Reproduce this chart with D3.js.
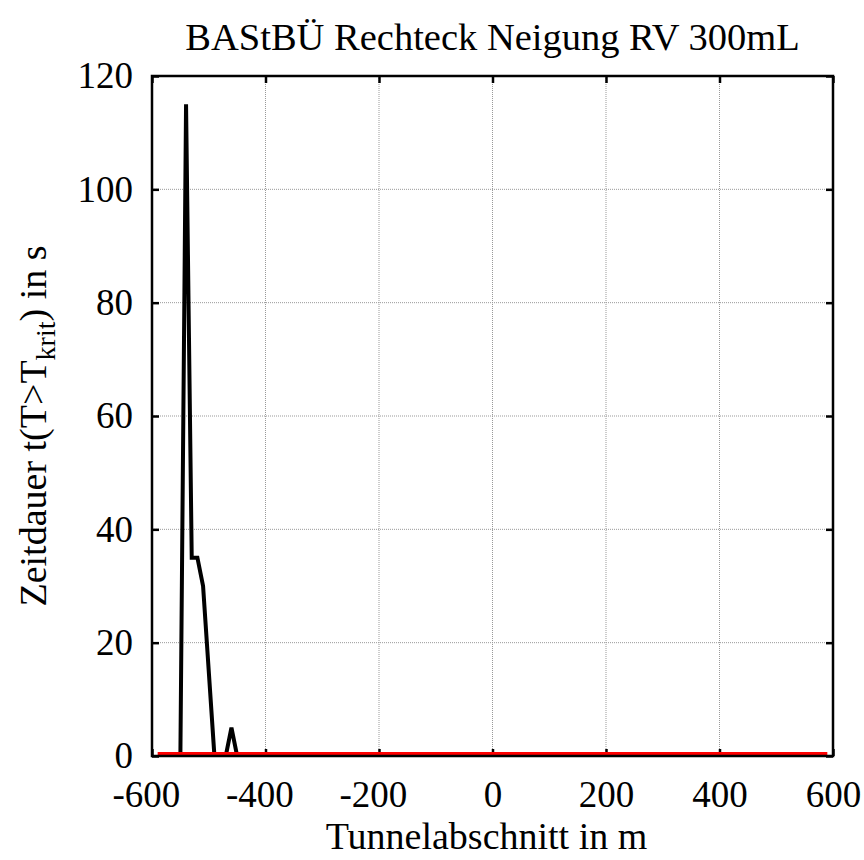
<!DOCTYPE html>
<html>
<head>
<meta charset="utf-8">
<script src="https://cdn.jsdelivr.net/npm/d3@7"></script>
<style>
  body { margin: 0; background: #fff; }
  svg text { font-family: "Liberation Serif", "Times New Roman", serif; fill: #000; }
</style>
</head>
<body>
<div id="chart"></div>
<script>
// data
var posX   = [-550, -540, -530, -520, -510, -490, -480, -470, -460, -450];
var dauer  = [0, 115, 35, 35, 30, 0, 0, 0, 5, 0];
var limitX = [-590, 590];
var limitY = [0, 0];
var xTicks = [-600, -400, -200, 0, 200, 400, 600];
var yTicks = [0, 20, 40, 60, 80, 100, 120];

var W = 864, H = 860;
var margin = {top: 76, right: 31, bottom: 104, left: 152};
var innerW = W - margin.left - margin.right,
    innerH = H - margin.top - margin.bottom;

var svg = d3.select("#chart").append("svg")
  .attr("width", W)
  .attr("height", H);

svg.append("defs").append("clipPath").attr("id", "plotclip")
  .append("rect").attr("width", innerW).attr("height", innerH);

var g = svg.append("g")
  .attr("transform", "translate(" + margin.left + "," + margin.top + ")");

var x = d3.scaleLinear().domain([-600, 600]).range([0, innerW]);
var y = d3.scaleLinear().domain([0, 120]).range([innerH, 0]);

// grid (dotted gray)
g.selectAll(".gx").data(xTicks.slice(1, -1)).enter().append("line")
  .attr("x1", function(d){ return x(d); }).attr("x2", function(d){ return x(d); })
  .attr("y1", 0).attr("y2", innerH)
  .style("stroke", "#999").style("stroke-width", 1).style("stroke-dasharray", "1,1");
g.selectAll(".gy").data(yTicks.slice(1, -1)).enter().append("line")
  .attr("y1", function(d){ return y(d); }).attr("y2", function(d){ return y(d); })
  .attr("x1", 0).attr("x2", innerW)
  .style("stroke", "#999").style("stroke-width", 1).style("stroke-dasharray", "1,1");

// axes, ticks pointing inward
var fs = 37;
var xAxis = g.append("g").attr("transform", "translate(0," + innerH + ")")
  .call(d3.axisBottom(x).tickValues(xTicks).tickSize(-7).tickPadding(25).tickFormat(d3.format("d")));
var yAxis = g.append("g")
  .call(d3.axisLeft(y).tickValues(yTicks).tickSize(-7).tickPadding(19).tickFormat(d3.format("d")));
var xTop = g.append("g")
  .call(d3.axisTop(x).tickValues(xTicks).tickSize(-7).tickFormat(""));
var yRight = g.append("g").attr("transform", "translate(" + innerW + ",0)")
  .call(d3.axisRight(y).tickValues(yTicks).tickSize(-7).tickFormat(""));

[xAxis, yAxis, xTop, yRight].forEach(function(a){
  a.select(".domain").remove();
  a.selectAll(".tick line").style("stroke", "#000").style("stroke-width", 2.5);
  a.selectAll("text").style("font-size", fs + "px").style("font-family", "Liberation Serif, serif");
});
// digits centred on the tick, the minus sign hangs to the left
xAxis.selectAll("text")
  .text(function(d){ return d < 0 ? "-" + Math.abs(d) : d; })
  .attr("dx", function(d){ return d < 0 ? "-0.167em" : 0; });

// series
var line = d3.line()
  .x(function(d){ return x(d[0]); })
  .y(function(d){ return y(d[1]); });

g.append("path")
  .datum(d3.zip(posX, dauer))
  .attr("d", line)
  .attr("clip-path", "url(#plotclip)")
  .style("fill", "none")
  .style("stroke", "#000")
  .style("stroke-width", 4)
  .style("stroke-linejoin", "miter");

g.append("path")
  .datum(d3.zip(limitX, limitY))
  .attr("d", line)
  .attr("transform", "translate(0,-2.5)")
  .style("fill", "none")
  .style("stroke", "#ff0000")
  .style("stroke-width", 3);

// frame
g.append("rect")
  .attr("width", innerW).attr("height", innerH)
  .style("fill", "none").style("stroke", "#000").style("stroke-width", 2.5);

// title and labels
svg.append("text")
  .attr("x", margin.left + innerW / 2).attr("y", 50)
  .attr("text-anchor", "middle")
  .style("font-size", "38.5px")
  .text("BAStBÜ Rechteck Neigung RV 300mL");

svg.append("text")
  .attr("x", margin.left + innerW / 2 - 6).attr("y", 849)
  .attr("text-anchor", "middle")
  .style("font-size", "38px")
  .text("Tunnelabschnitt in m");

var yl = svg.append("text")
  .attr("transform", "translate(46,426) rotate(-90)")
  .attr("text-anchor", "middle")
  .style("font-size", "38px");
yl.append("tspan").text("Zeitdauer t(T>T");
yl.append("tspan").attr("dy", 9).style("font-size", "28px").text("krit");
yl.append("tspan").attr("dy", -9).text(") in s");
</script>
</body>
</html>
